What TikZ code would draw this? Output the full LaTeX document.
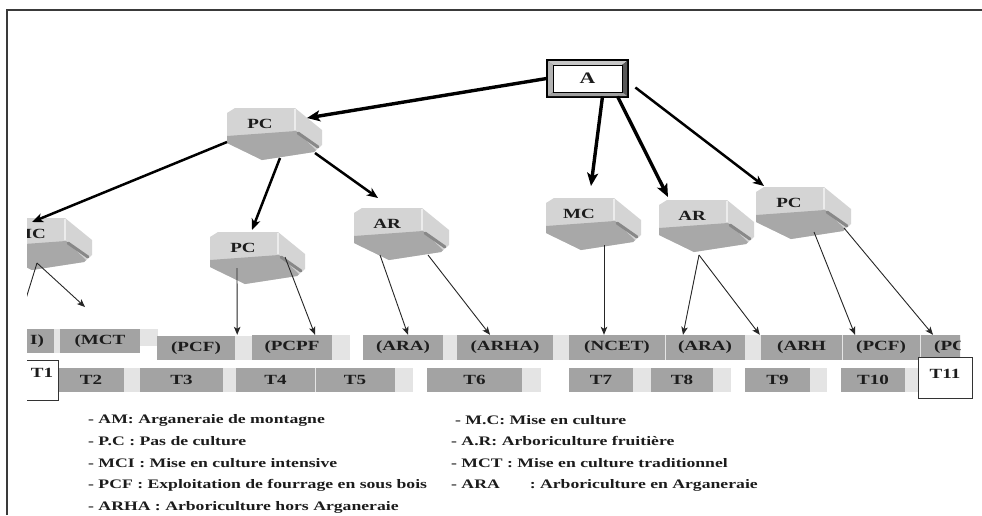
\documentclass[tikz,border=0pt]{standalone}
\usepackage{fontspec}
\setmainfont{Liberation Serif}[FakeStretch=1.36]
\usetikzlibrary{arrows.meta}
\definecolor{btntopc}{HTML}{D4D4D4}
\definecolor{btnlowc}{HTML}{A8A8A8}
\definecolor{btngroovec}{HTML}{888888}
\definecolor{bardark}{HTML}{A3A3A3}
\definecolor{barlight}{HTML}{E4E4E4}
\definecolor{txtc}{HTML}{1C1C1C}
\definecolor{framec}{HTML}{3A3A3A}
\tikzset{
  btnlabel/.style={inner sep=0pt, text=txtc, font=\bfseries\fontsize{14}{16}\selectfont},
  barbox/.style={fill=bardark, inner sep=0pt, text=txtc, font=\bfseries\fontsize{14}{16}\selectfont},
  legend/.style={anchor=west, inner sep=0pt, text=txtc, font=\bfseries\fontsize{13}{15}\selectfont},
  bigarrow/.style={line width=3.4pt, -{Stealth[length=13pt,width=11pt,inset=3pt]}, draw=black},
  midarrow/.style={line width=2.5pt, -{Stealth[length=11pt,width=9pt,inset=3pt]}, draw=black},
  thinarrow/.style={line width=0.9pt, -{Stealth[length=8pt,width=6.5pt,inset=2pt]}, draw=black!85},
  tbox/.style={fill=white, draw=black!80, line width=1pt},
}
\newcommand\mybtn[4]{%
  \begin{scope}[shift={(#2,#3)}]
    \fill[btntopc] (2,5) -- (10,0) -- (70,0) -- (97,22) -- (97,37) -- (89,44) -- (37,52) -- (2,35) -- cycle;
    \fill[btnlowc] (2,28) -- (71,23) -- (91,42) -- (89,44) -- (37,52) -- (2,35) -- cycle;
    \draw[btngroovec, line width=3pt, line cap=round] (73,25) -- (93,39);
    \draw[white!85!gray, line width=1.2pt] (70,1) -- (70,22);
    \node[btnlabel] (#1) at (35,16) {#4};
  \end{scope}}
\newcommand\mybar[6]{% name x0 x1 y0 y1 text
  \node[barbox, minimum width={(#3-#2)*1pt}, minimum height={(#5-#4)*1pt}] (#1) at ({(#2+#3)/2},{(#4+#5)/2}) {#6};}
\newcommand\mylight[4]{\fill[barlight] (#1,#3) rectangle (#2,#4);}
\begin{document}
\begin{tikzpicture}[x=1pt,y=-1pt]
\useasboundingbox (0,0) rectangle (982,515);
\fill[white] (0,0) rectangle (982,515);
% frame
\draw[framec, line width=1.5pt] (7,515) -- (7,10) -- (982,10);

\begin{scope}
\clip (27,0) rectangle (960,515);
% buttons
\mybtn{PCa}{225}{108}{PC}
\mybtn{MCl}{-5}{218}{MC}
\mybtn{PCb}{208}{232}{PC}
\mybtn{ARa}{352}{208}{AR}
\mybtn{MCr}{544}{198}{MC}
\mybtn{ARb}{657}{200}{AR}
\mybtn{PCc}{754}{187}{PC}

% row 1 bars
\mylight{54}{60}{329}{353}
\mylight{140}{158}{329}{346}
\mylight{235}{252}{336}{360}
\mylight{332}{350}{335}{360}
\mylight{443}{457}{335}{360}
\mylight{553}{569}{335}{360}
\mylight{745}{761}{335}{360}
\mybar{b1}{20}{54}{329}{353}{I)}
\mybar{b2}{60}{140}{329}{353}{(MCT}
\mybar{b3}{157}{235}{336}{360}{(PCF)}
\mybar{b4}{252}{332}{335}{360}{(PCPF}
\mybar{b5}{363}{443}{335}{360}{(ARA)}
\mybar{b6}{457}{553}{335}{360}{(ARHA)}
\mybar{b7}{569}{665}{335}{360}{(NCET)}
\mybar{b8}{665}{745}{335}{360}{(ARA)}
\mybar{b9}{761}{842}{335}{360}{(ARH}
\mybar{b10}{842}{920}{335}{360}{(PCF)}
\node[barbox, anchor=west, minimum width=45pt, minimum height=25pt, text width=45pt, inner xsep=0pt] (b11) at (920,347.5) {\hspace*{14pt}(PC};
\draw[white!80!gray, line width=0.6pt] (665,335) -- (665,360);
\draw[white!80!gray, line width=0.6pt] (842,335) -- (842,360);
\draw[white!80!gray, line width=0.6pt] (920,335) -- (920,360);

% row 2 bars
\mylight{124}{140}{368}{392}
\mylight{223}{236}{368}{392}
\mylight{395}{413}{368}{392}
\mylight{522}{541}{368}{392}
\mylight{633}{651}{368}{392}
\mylight{713}{731}{368}{392}
\mylight{810}{827}{368}{392}
\mylight{905}{918}{368}{392}
\mybar{t2}{58}{124}{368}{392}{T2}
\mybar{t3}{140}{223}{368}{392}{T3}
\mybar{t4}{236}{315}{368}{392}{T4}
\mybar{t5}{315}{395}{368}{392}{T5}
\mybar{t6}{427}{522}{368}{392}{T6}
\mybar{t7}{569}{633}{368}{392}{T7}
\mybar{t8}{651}{713}{368}{392}{T8}
\mybar{t9}{745}{810}{368}{392}{T9}
\mybar{t10}{841}{905}{368}{392}{T10}
\draw[white!80!gray, line width=0.6pt] (315,368) -- (315,392);

% T1 box
\fill[white] (20,360) rectangle (58,400);
\draw[black!80, line width=1pt] (20,360) -- (58,360) -- (58,400) -- (20,400);
\node[btnlabel] (t1) at (42,373) {T1};

% connectors from level-1 PC
\draw[midarrow] ([shift={(-33,18)}]PCa.center) -- ([shift={(2,-12)}]MCl.center);
\draw[midarrow] ([shift={(20,34)}]PCa.center) -- ([shift={(9,-18)}]PCb.center);
\draw[midarrow] ([shift={(55,29)}]PCa.center) -- ([shift={(-9,-26)}]ARa.center);

% thin connectors
\coordinate (cL) at (20,318);
\coordinate (cR) at (85,307);
\draw[thinarrow] ([shift={(7,29)}]MCl.center) -- (cL);
\draw[thinarrow] ([shift={(7,29)}]MCl.center) -- (cR);
\draw[thinarrow] ([shift={(-6,20)}]PCb.center) -- ([shift={(2,-1)}]b3.north east);
\draw[thinarrow] ([shift={(42,9)}]PCb.center) -- ([shift={(23,0)}]b4.north);
\draw[thinarrow] ([shift={(-7,31)}]ARa.center) -- ([shift={(5,0)}]b5.north);
\draw[thinarrow] ([shift={(41,31)}]ARa.center) -- ([shift={(-15,0)}]b6.north);
\draw[thinarrow] ([shift={(25,31)}]MCr.center) -- ([shift={(-13,0)}]b7.north);
\draw[thinarrow] ([shift={(7,39)}]ARb.center) -- ([shift={(-22,0)}]b8.north);
\draw[thinarrow] ([shift={(7,39)}]ARb.center) -- ([shift={(-1,0)}]b9.north west);
\draw[thinarrow] ([shift={(25,29)}]PCc.center) -- ([shift={(-26,0)}]b10.north);
\draw[thinarrow] ([shift={(55,25)}]PCc.center) -- ([shift={(13,0)}]b11.north west);
\end{scope}

% T11 box
\node[tbox, minimum width=54pt, minimum height=41pt, inner sep=0pt] (t11box) at (945,377.5) {};
\node[btnlabel] (t11) at (945,374) {T11};

% A box
\fill[black] (546,59) rectangle (629,98);
\fill[gray!45] (548,61) -- (627,61) -- (622,65) -- (553,65) -- cycle;
\fill[gray!60] (548,61) -- (553,65) -- (553,92) -- (548,96) -- cycle;
\fill[black!65] (627,61) -- (627,96) -- (622,92) -- (622,65) -- cycle;
\fill[gray!75] (548,96) -- (627,96) -- (622,92) -- (553,92) -- cycle;
\node[fill=white, draw=black, line width=0.8pt, minimum width=69pt, minimum height=27pt, inner sep=0pt, text=txtc, font=\bfseries\fontsize{16}{18}\selectfont] (A) at (587.5,78.5) {A};

% connectors from A
\draw[bigarrow] ([shift={(-6,0)}]A.west) -- ([shift={(47,-6)}]PCa.center);
\draw[bigarrow] ([shift={(15,4)}]A.south) -- ([shift={(12,-28)}]MCr.center);
\draw[bigarrow] ([shift={(30,4)}]A.south) -- ([shift={(-24,-19)}]ARb.center);
\draw[midarrow] ([shift={(13,9)}]A.east) -- ([shift={(-25,-17)}]PCc.center);

% legend
\node[legend] (l1) at (88,420) {- AM: Arganeraie de montagne};
\node[legend] (l2) at (88,441) {- P.C : Pas de culture};
\node[legend] (l3) at (88,463) {- MCI : Mise en culture intensive};
\node[legend] (l4) at (88,485) {- PCF : Exploitation de fourrage en sous bois};
\node[legend] (l5) at (88,507) {- ARHA : Arboriculture hors Arganeraie};
\node[legend] (r1) at (455,420) {- M.C: Mise en culture};
\node[legend] (r2) at (451,441) {- A.R: Arboriculture fruitière};
\node[legend] (r3) at (451,463) {- MCT : Mise en culture traditionnel};
\node[legend] (r4) at (451,485) {- ARA\hspace{30pt}: Arboriculture en Arganeraie};
\end{tikzpicture}
\end{document}
